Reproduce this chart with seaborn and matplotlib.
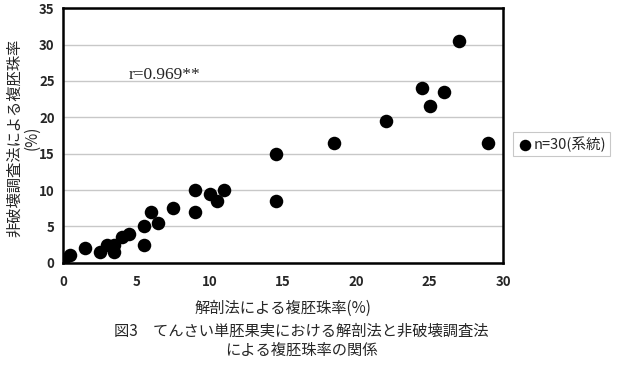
import matplotlib
matplotlib.use("Agg")
import matplotlib.pyplot as plt
import pandas as pd
import seaborn as sns

# 解剖法 (x) と 非破壊調査法 (y) による複胚珠率(%)
dissection = [0, 0, 0.5, 1.5, 2.5, 3, 3.5, 3.5, 4, 4.5,
              5.5, 5.5, 6, 6.5, 7.5, 9, 9, 10, 10.5, 11,
              14.5, 14.5, 18.5, 22, 24.5, 25, 26, 27, 29, 0]
nondestructive = [0, 0.5, 1, 2, 1.5, 2.5, 2.5, 1.5, 3.5, 4,
                  5, 2.5, 7, 5.5, 7.5, 10, 7, 9.5, 8.5, 10,
                  15, 8.5, 16.5, 19.5, 24, 21.5, 23.5, 30.5, 16.5, 0.2]
x_ticks = [0, 5, 10, 15, 20, 25, 30]
y_ticks = [0, 5, 10, 15, 20, 25, 30, 35]

df = pd.DataFrame({"x": dissection, "y": nondestructive})

sns.set_style("white")
jp = ["Noto Sans CJK JP", "DejaVu Sans"]
plt.rcParams["font.family"] = jp

fig = plt.figure(figsize=(6.24, 3.72), dpi=100)
ax = fig.add_axes([63 / 624, 1 - 262.7 / 372, 440 / 624, 254.4 / 372])

sns.scatterplot(data=df, x="x", y="y", ax=ax, color="black", s=95,
                edgecolor="black", linewidth=0, label="n=30(系統)", zorder=3)

ax.set_xlim(0, 30)
ax.set_ylim(0, 35)
ax.set_xticks(x_ticks)
ax.set_yticks(y_ticks)
ax.yaxis.grid(True, color="#c8c8c8", linewidth=1)
ax.set_axisbelow(True)
for sp in ax.spines.values():
    sp.set_color("black")
    sp.set_linewidth(1.8)
ax.tick_params(axis="x", direction="in", length=4, width=0.8, color="#aaaaaa",
               labelsize=9.5, pad=9)
ax.tick_params(axis="y", length=0, labelsize=9.5, pad=6)
for lab in ax.get_xticklabels() + ax.get_yticklabels():
    lab.set_fontweight("bold")

ax.set_xlabel("解剖法による複胚珠率(%)", fontsize=11, labelpad=8)
ax.set_ylabel("非破壊調査法による複胚珠率\n(%)", fontsize=11, linespacing=1.0)
ax.yaxis.set_label_coords(-0.052, 0.49)

ax.text(4.5, 25.8, "r=0.969**", fontsize=12.5, family=["Liberation Serif", "DejaVu Serif"],
        va="center", ha="left")

leg = ax.legend(loc="upper left", bbox_to_anchor=(513 / 624, 1 - 132 / 372),
                bbox_transform=fig.transFigure, frameon=True, fancybox=False,
                fontsize=10.5, handletextpad=0.1, borderpad=0.3, borderaxespad=0,
                handlelength=1.0, markerscale=0.85)
leg.get_frame().set_edgecolor("#bbbbbb")
leg.get_frame().set_linewidth(0.8)

fig.text(301 / 624, 1 - 341 / 372,
         "図3　てんさい単胚果実における解剖法と非破壊調査法\nによる複胚珠率の関係",
         ha="center", va="center", fontsize=11, linespacing=1.15,
         multialignment="center")

fig.savefig("out.png", dpi=100)
